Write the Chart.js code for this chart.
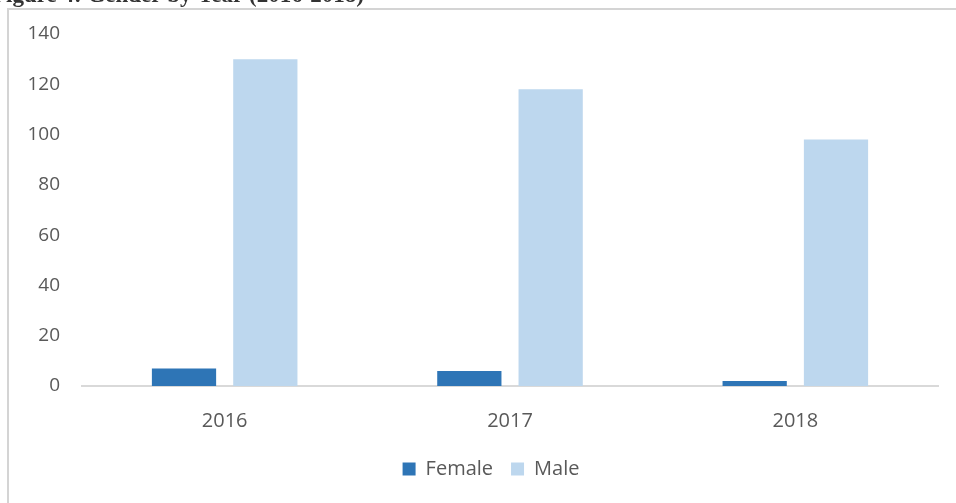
<!DOCTYPE html>
<html>
<head>
<meta charset="utf-8">
<title>Gender by Year</title>
<script src="https://cdn.jsdelivr.net/npm/chart.js@4"></script>
<style>
    html, body { margin: 0; padding: 0; background: #ffffff; }
    #wrap { position: relative; width: 956px; height: 503px; }
</style>
</head>
<body>
<div id="wrap"><canvas id="genderChart"></canvas></div>
<script>
const years = ['2016', '2017', '2018'];
const femaleCounts = [7, 6, 2];
const maleCounts = [130, 118, 98];
const yTicks = [0, 20, 40, 60, 80, 100, 120, 140];
const figureTitle = 'Figure 4: Gender by Year (2016-2018)';

document.addEventListener('DOMContentLoaded', function() {
    const ctx = document.getElementById('genderChart').getContext('2d');
    const textColor = '#595959';
    const fontFamily = "'Open Sans', 'Liberation Sans', sans-serif";

    // frame around the figure plus the caption sitting above it
    const framePlugin = {
        id: 'frame',
        afterLayout(chart) {
            // legend sits a little right of the canvas centre
            chart.legend.left += 22;
            chart.legend.right += 22;
        },
        beforeDraw(chart) {
            const c = chart.ctx;
            c.save();
            c.fillStyle = '#ffffff';
            c.fillRect(0, 0, chart.width, chart.height);
            c.strokeStyle = '#d4d4d4';
            c.lineWidth = 2;
            c.beginPath();
            c.moveTo(8, chart.height);
            c.lineTo(8, 9);
            c.lineTo(chart.width, 9);
            c.stroke();
            c.fillStyle = '#333333';
            c.font = "bold 23px 'Liberation Serif', serif";
            c.textBaseline = 'alphabetic';
            c.fillText(figureTitle, -8, 2);
            c.restore();
        }
    };

    new Chart(ctx, {
        type: 'bar',
        data: {
            labels: years,
            datasets: [{
                label: 'Female',
                data: femaleCounts,
                backgroundColor: '#2e75b6'
            }, {
                label: 'Male',
                data: maleCounts,
                backgroundColor: '#bdd7ee'
            }]
        },
        options: {
            responsive: true,
            maintainAspectRatio: false,
            animation: false,
            datasets: {
                bar: {
                    categoryPercentage: 0.57,
                    barPercentage: 0.79
                }
            },
            layout: {
                padding: { left: 0, right: 18, top: 34, bottom: 14 }
            },
            scales: {
                x: {
                    grid: { display: false, drawTicks: false },
                    border: { display: true, color: '#d9d9d9', width: 2 },
                    ticks: {
                        color: textColor,
                        font: { family: fontFamily, size: 20 },
                        padding: 23
                    },
                    afterFit: function(scale) {
                        scale.height = 55;
                    }
                },
                y: {
                    min: 0,
                    max: 140,
                    grid: { display: false, drawTicks: false },
                    border: { display: false },
                    afterBuildTicks: function(scale) {
                        scale.ticks = yTicks.map(v => ({ value: v }));
                    },
                    ticks: {
                        color: textColor,
                        font: { family: fontFamily, size: 19 },
                        padding: 22
                    },
                    afterFit: function(scale) {
                        scale.width = 82;
                    }
                }
            },
            plugins: {
                legend: {
                    position: 'bottom',
                    labels: {
                        color: textColor,
                        font: { family: fontFamily, size: 20 },
                        boxWidth: 13,
                        boxHeight: 13,
                        padding: 18
                    }
                },
                tooltip: { enabled: false }
            }
        },
        plugins: [framePlugin]
    });
});
</script>
</body>
</html>
